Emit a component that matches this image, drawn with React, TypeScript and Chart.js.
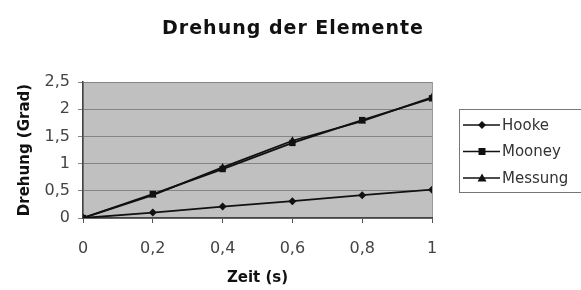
import React, { useEffect, useRef } from "react";
import { Chart, registerables } from "chart.js";

Chart.register(...registerables);

const xValues = [0, 0.2, 0.4, 0.6, 0.8, 1];
const hooke = [0, 0.1, 0.21, 0.31, 0.42, 0.52];
const mooney = [0, 0.44, 0.9, 1.38, 1.8, 2.2];
const messung = [0, 0.42, 0.93, 1.42, 1.78, 2.22];
const seriesNames = ["Hooke", "Mooney", "Messung"];
const pointStyles = ["rectRot", "rect", "triangle"];
const titleText = "Drehung der Elemente";
const xTitle = "Zeit (s)";
const yTitle = "Drehung (Grad)";

const FONT = "'DejaVu Sans', 'Liberation Sans', sans-serif";

const plotBg = {
  id: "plotBg",
  beforeDraw(chart: any) {
    const { ctx, chartArea: a } = chart;
    ctx.save();
    ctx.fillStyle = "#c0c0c0";
    ctx.fillRect(a.left, a.top, a.right - a.left, a.bottom - a.top);
    ctx.strokeStyle = "#9a9a9a";
    ctx.lineWidth = 1;
    ctx.strokeRect(a.left + 0.5, a.top + 0.5, a.right - a.left, a.bottom - a.top);
    ctx.restore();
  },
};

const titleAndLegend = {
  id: "titleAndLegend",
  afterDraw(chart: any) {
    const { ctx } = chart;
    ctx.save();
    // title
    ctx.fillStyle = "#111";
    ctx.font = `bold 19px ${FONT}`;
    (ctx as any).letterSpacing = "1px";
    ctx.textAlign = "center";
    ctx.textBaseline = "middle";
    ctx.fillText(titleText, 293, 29);
    (ctx as any).letterSpacing = "0px";

    // legend
    const x0 = 459;
    const y0 = 109;
    ctx.fillStyle = "#ffffff";
    ctx.fillRect(x0, y0, 140, 83);
    ctx.strokeStyle = "#777";
    ctx.lineWidth = 1;
    ctx.strokeRect(x0 + 0.5, y0 + 0.5, 140, 83);
    ctx.textAlign = "left";
    chart.data.datasets.forEach((ds: any, i: number) => {
      const y = y0 + 16 + i * 26.5;
      ctx.strokeStyle = "#111";
      ctx.lineWidth = 1.5;
      ctx.beginPath();
      ctx.moveTo(x0 + 4, y);
      ctx.lineTo(x0 + 41, y);
      ctx.stroke();
      ctx.fillStyle = "#111";
      const cx = x0 + 23;
      ctx.beginPath();
      if (ds.pointStyle === "rectRot") {
        ctx.moveTo(cx, y - 4); ctx.lineTo(cx + 4, y); ctx.lineTo(cx, y + 4); ctx.lineTo(cx - 4, y);
      } else if (ds.pointStyle === "rect") {
        ctx.rect(cx - 3.5, y - 3.5, 7, 7);
      } else {
        ctx.moveTo(cx, y - 4.5); ctx.lineTo(cx + 4.5, y + 3.5); ctx.lineTo(cx - 4.5, y + 3.5);
      }
      ctx.closePath();
      ctx.fill();
      ctx.fillStyle = "#333";
      ctx.font = `15px ${FONT}`;
      ctx.textBaseline = "middle";
      ctx.fillText(ds.label, x0 + 43, y + 1);
    });
    ctx.restore();
  },
};

export default function App() {
  const ref = useRef<HTMLCanvasElement>(null);
  useEffect(() => {
    if (!ref.current) return;
    const series = [hooke, mooney, messung];
    const chart = new Chart(ref.current, {
      type: "line",
      data: {
        datasets: series.map((vals, i) => ({
          label: seriesNames[i],
          data: vals.map((v, j) => ({ x: xValues[j], y: v })),
          borderColor: "#111",
          backgroundColor: "#111",
          borderWidth: 1.8,
          pointStyle: pointStyles[i] as any,
          pointRadius: i === 0 ? 4 : 4.5,
          pointBorderWidth: 0,
          tension: 0,
        })),
      },
      options: {
        animation: false,
        responsive: false,
        layout: { padding: { left: 0, right: 149, top: 82, bottom: 0 } },
        plugins: {
          legend: { display: false },
          tooltip: { enabled: false },
          title: { display: false },
        },
        scales: {
          x: {
            type: "linear",
            min: 0,
            max: 1,
            ticks: {
              stepSize: 0.2,
              color: "#444",
              font: { family: FONT, size: 16 },
              padding: 16,
              callback: (v: any) => String(Math.round(Number(v) * 10) / 10).replace(".", ","),
            },
            grid: { display: true, drawOnChartArea: false, drawTicks: true, tickLength: 5, color: "#555" },
            border: { display: true, color: "#444", width: 1.5 },
            title: { display: true, text: xTitle, color: "#111", font: { family: FONT, size: 15, weight: "bold" }, padding: { top: 4, bottom: 3 } },
            afterFit: (s: any) => { s.height = 72; },
          },
          y: {
            min: 0,
            max: 2.5,
            ticks: {
              stepSize: 0.5,
              color: "#444",
              font: { family: FONT, size: 16 },
              padding: 8,
              callback: (v: any) => String(v).replace(".", ","),
            },
            grid: { color: "#858585", tickLength: 5, drawTicks: true },
            border: { display: true, color: "#444", width: 1.5 },
            title: { display: true, text: yTitle, color: "#111", font: { family: FONT, size: 15, weight: "bold" }, padding: { top: 16, bottom: 16 } },
            afterFit: (s: any) => { s.width = 83; },
          },
        },
      },
      plugins: [plotBg, titleAndLegend],
    });
    return () => chart.destroy();
  }, []);
  return (
    <div style={{ position: "fixed", left: 0, top: 0, width: 581, height: 290, background: "#fff" }}>
      <canvas ref={ref} width={581} height={290} />
    </div>
  );
}
